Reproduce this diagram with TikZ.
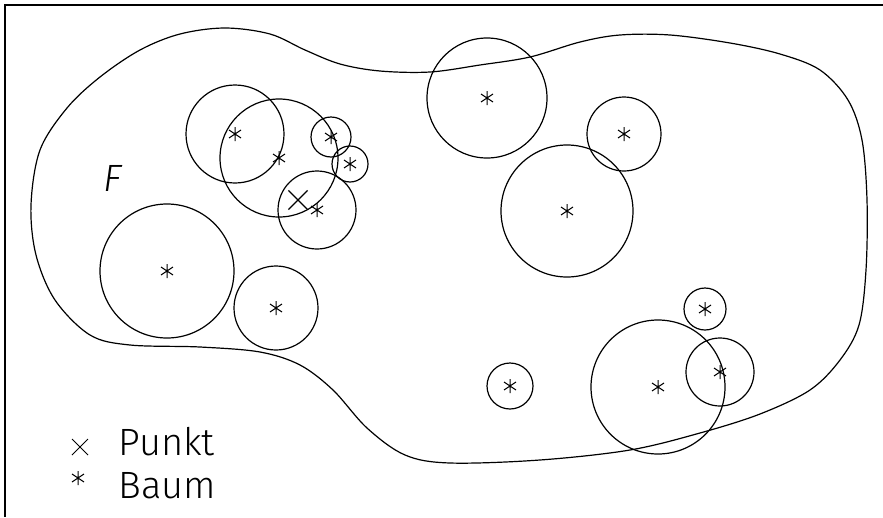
\documentclass[tikz,border=0pt]{standalone}
\usepackage{fontspec}
\newfontfamily\plotfont{Fira Sans}[UprightFont={* Light}, ItalicFont={* Light Italic}]
\usetikzlibrary{shapes.misc}

\begin{document}
\begin{tikzpicture}[
        x=1pt, y=-1pt,
        line width=1.2pt,
        baum/.style={circle, draw, inner sep=0pt, minimum size=#1},
        punkt/.style={cross out, draw, inner sep=0pt, minimum width=#1, minimum height=#1},
        legend/.style={anchor=base west, inner sep=0pt, font=\plotfont\fontsize{38}{44}\selectfont},
        stern/.pic={\draw[line width=1pt] (0,-7) -- (0,7) (-6,-4) -- (6,4) (-6,4) -- (6,-4);}
    ]
    \useasboundingbox (0,0) rectangle (883,517);

    % Frame
    \draw[line width=1.6pt] (883,5) -- (5,5) -- (5,517);

    % Area F
    \draw plot[smooth cycle, tension=0.55] coordinates {
        (31,205) (40,150) (67,108) (100,77) (140,50) (180,34) (225,28) (270,34)
        (305,50) (340,64) (380,71) (430,72) (480,65) (530,57) (580,42) (620,35)
        (670,35) (730,43) (780,54) (820,70) (848,100) (862,140) (867,200) (866,270)
        (859,325) (840,360) (810,390) (760,414) (700,433) (630,450) (540,460) (450,463)
        (405,455) (367,428) (333,390) (300,365) (260,352) (200,347) (130,345) (90,335)
        (55,300) (36,255)};
    \node[font=\plotfont\itshape\fontsize{38}{44}\selectfont, inner sep=0pt] (F) at (113,178) {F};

    % Trees
    \foreach \x/\y/\r [count=\i] in {235/134/49, 279/158/59, 331/137/20, 350/164/18,
            317/210/39, 487/98/60, 624/134/37, 567/211/66, 510/386/23, 658/387/67,
            705/309/21, 720/372/34, 167/271/67, 276/308/42} {
        \node[baum={2*\r pt}] (b\i) at (\x,\y) {};
        \pic at (b\i.center) {stern};
    }

    % Point
    \node[punkt=18pt] (p) at (298,200) {};

    % Legend
    \node[punkt=15pt, line width=1pt] (lp) at (80,447) {};
    \pic at (78,478) {stern};
    \node[legend] (tp) at (118,455) {Punkt};
    \node[legend] (tb) at (118,498) {Baum};
\end{tikzpicture}
\end{document}
